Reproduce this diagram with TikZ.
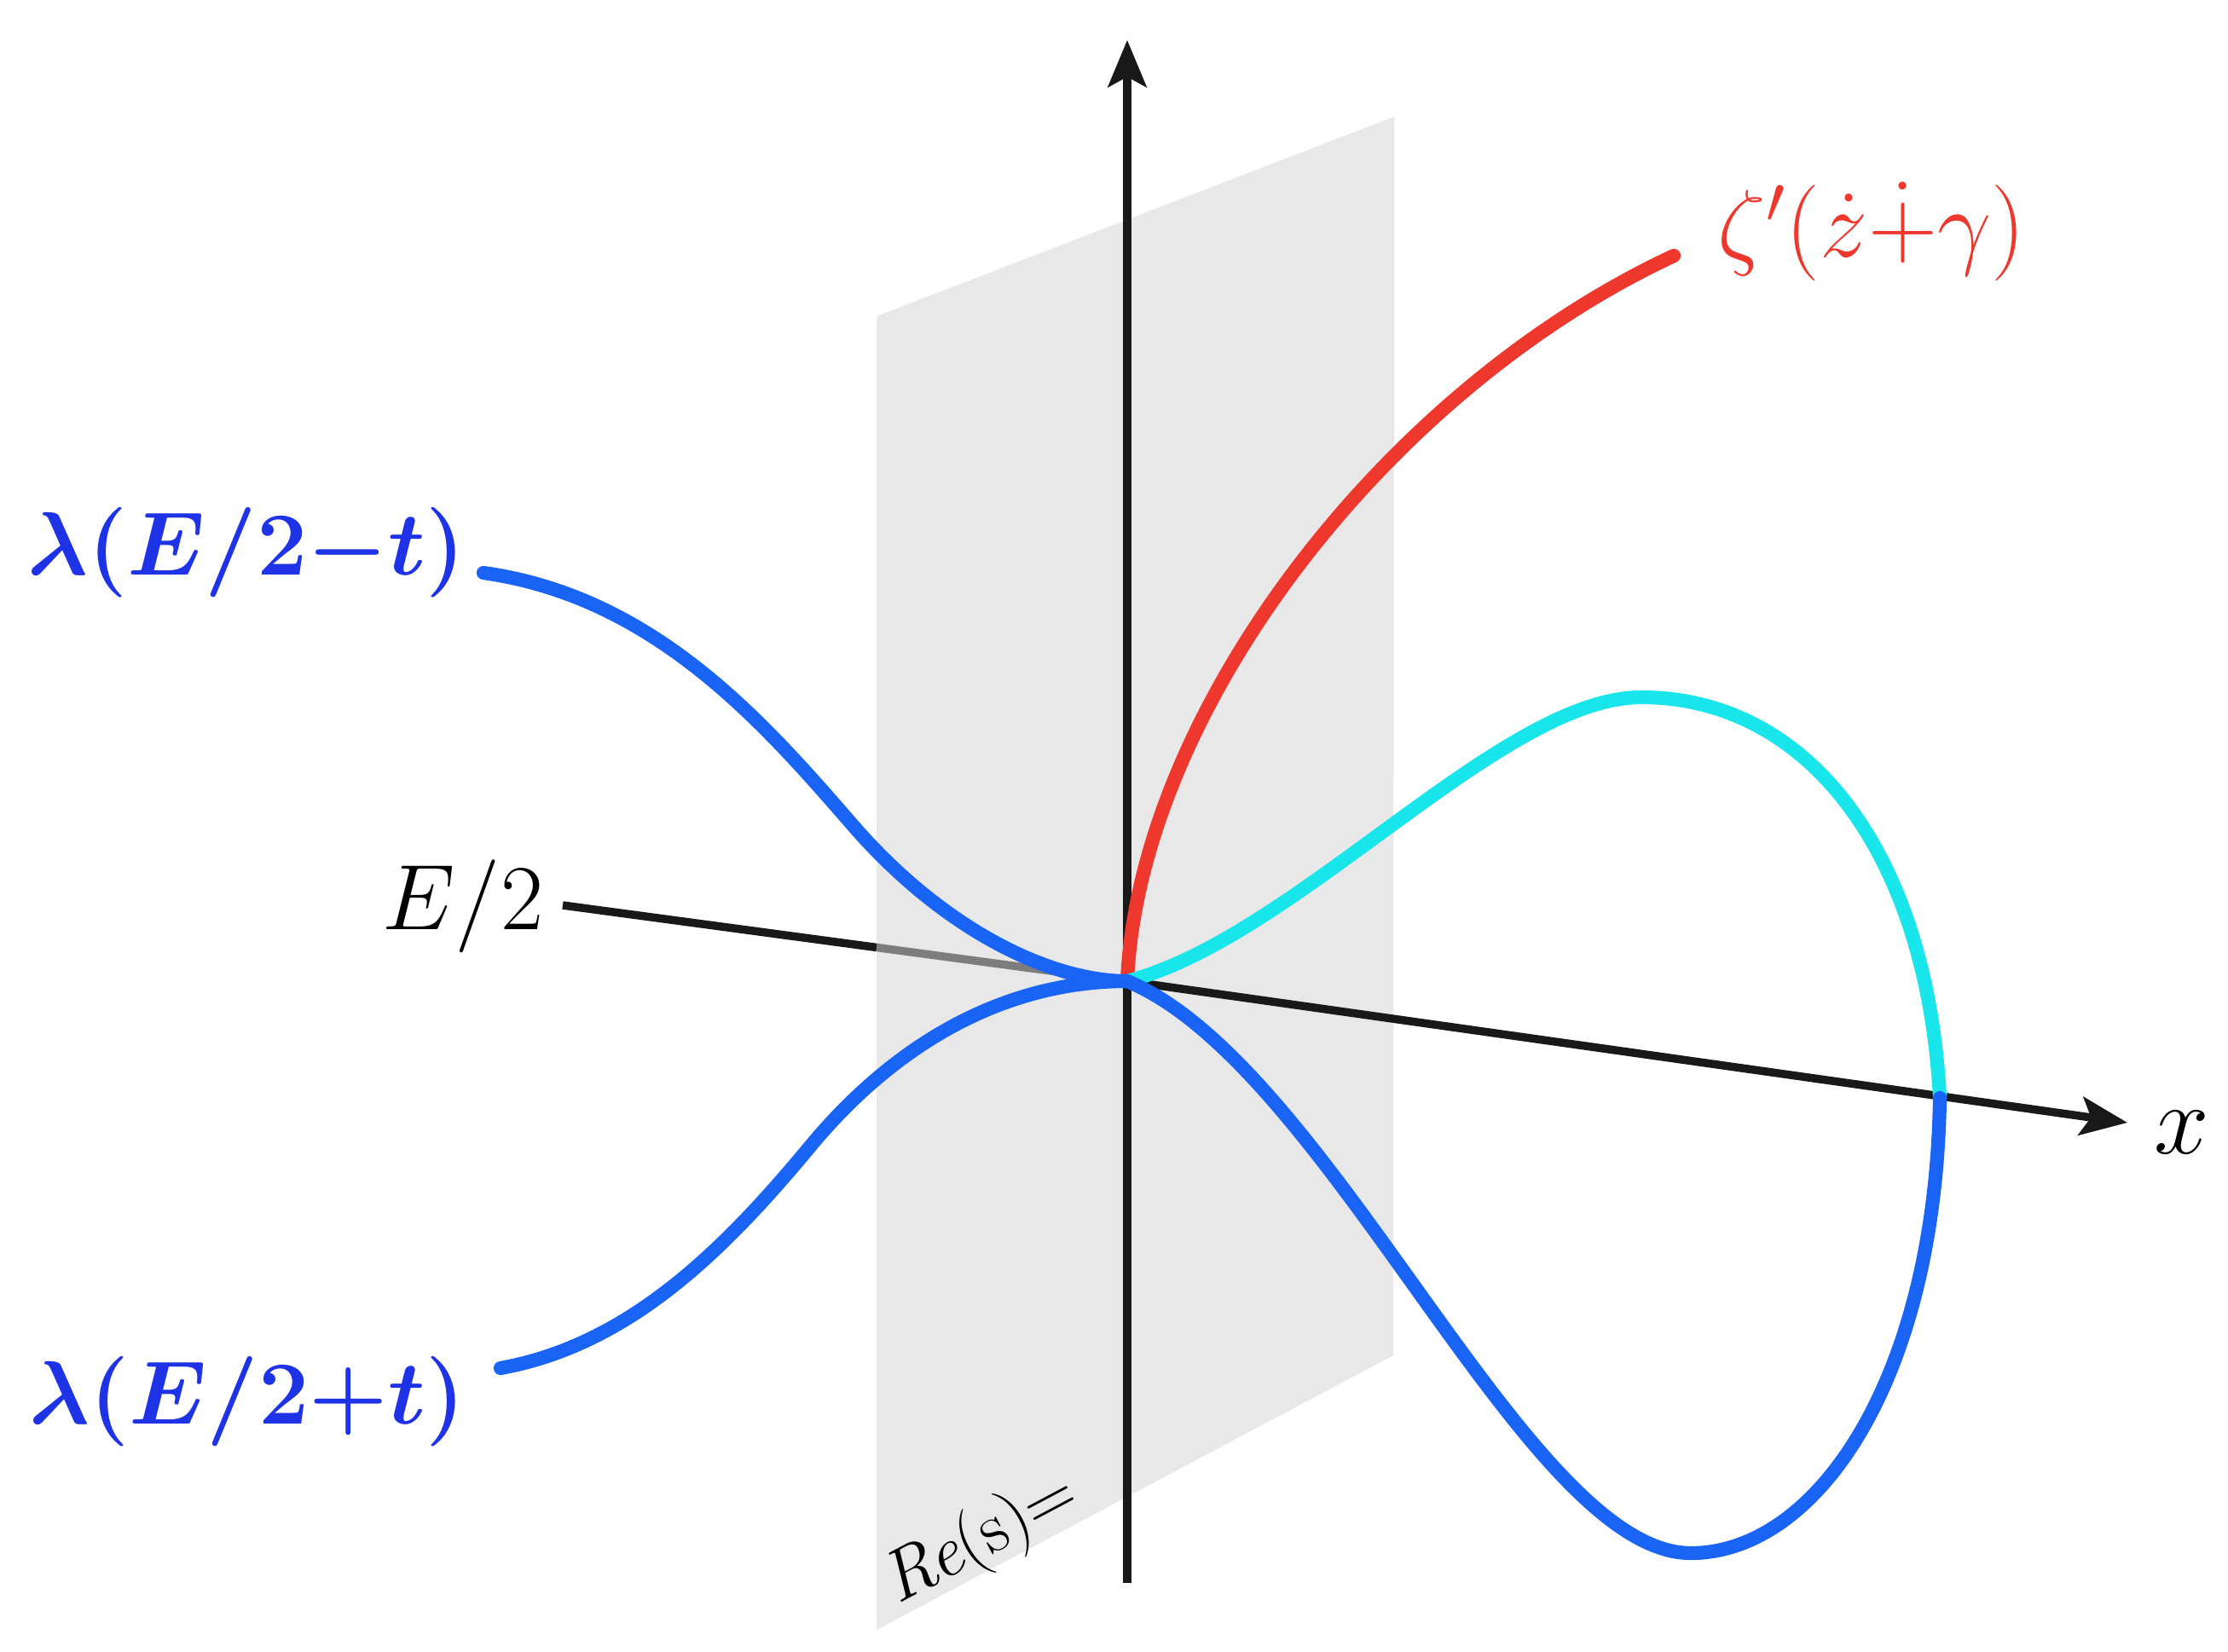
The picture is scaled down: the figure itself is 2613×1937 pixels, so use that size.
\RequirePackage{fix-cm}
\documentclass[tikz,border=0pt]{standalone}
\usepackage{amsmath}
\usepackage{graphicx}
\usetikzlibrary{arrows.meta,calc}
\definecolor{planegray}{RGB}{232,232,232}
\definecolor{hidden}{RGB}{125,125,125}
\definecolor{curveblue}{RGB}{25,100,245}
\definecolor{curvecyan}{RGB}{25,230,235}
\definecolor{curvered}{RGB}{238,55,45}
\definecolor{labelblue}{RGB}{30,50,230}
\begin{document}
\begin{tikzpicture}[x=0.01cm,y=-0.01cm,
  axis/.style={line width=2.7pt,draw=black!90},
  tipaxis/.style={-{Stealth[length=0.55cm,width=0.45cm,inset=0.12cm]}},
  curve/.style={line width=4.6pt,line cap=round,line join=round},
  biglabel/.style={font=\fontsize{32}{38}\selectfont,inner sep=0pt},
  boldlabel/.style={font=\fontsize{30}{36}\selectfont\boldmath,inner sep=0pt},
  midlabel/.style={font=\fontsize{31}{36}\selectfont,inner sep=0pt}]
\useasboundingbox (0,0) rectangle (2613,1937);
% plane
\fill[planegray] (1028,371) -- (1635,137) -- (1634,1590) -- (1028,1912) -- cycle;
% axes
\coordinate (O) at (1322,1151);
\coordinate (E) at (660,1062);
\coordinate (X) at (2495,1317);
\coordinate (B) at (1322,1857);
\coordinate (T) at (1322,47);
\coordinate (P) at ($(E)!0.556!(O)$);
\draw[axis] (E) -- (P);
\draw[axis,draw=hidden] (P) -- (O);
\draw[axis,tipaxis] (O) -- (X);
\draw[axis,tipaxis] (B) -- (T);
% curve points
\coordinate (R) at (1963,300);
\coordinate (CP) at (1925,818);
\coordinate (M) at (2275,1288);
\coordinate (BM) at (1983,1822);
\coordinate (UL) at (567,672);
\coordinate (ULm) at (1000,968);
\coordinate (LL) at (587,1605);
\coordinate (LLm) at (950,1345);
% curves
\draw[curve,curvered] (O) .. controls (1335,840) and (1620,460) .. (R);
\draw[curve,curvecyan] (O) .. controls (1520,1100) and (1760,818) .. (CP)
  .. controls (2120,818) and (2260,1000) .. (M);
\draw[curve,curveblue] (O) .. controls (1560,1250) and (1790,1822) .. (BM)
  .. controls (2130,1822) and (2270,1620) .. (M);
\draw[curve,curveblue] (UL) .. controls (767,700) and (895,847) .. (ULm)
  .. controls (1105,1089) and (1230,1151) .. (O);
\draw[curve,curveblue] (LL) .. controls (737,1578) and (848,1468) .. (LLm)
  .. controls (1052,1222) and (1180,1151) .. (O);
% labels
\node[midlabel,anchor=base] (lhalf) at (543,1090) {$E/2$};
\node[boldlabel,anchor=base,text=labelblue] (lminus) at (289,674) {$\lambda(E/2{-}t)$};
\node[boldlabel,anchor=base,text=labelblue] (lplus) at (290,1670) {$\lambda(E/2{+}t)$};
\node[biglabel,anchor=base,text=curvered] (lzeta) at (2195,302) {$\zeta'(\dot{z}\dot{+}\gamma)$};
\node[font=\fontsize{33}{38}\selectfont,inner sep=0pt,anchor=base] (lx) at (2559,1353) {$x$};
\node[font=\fontsize{24}{28}\selectfont,inner sep=0pt,anchor=base west,rotate=28] (lre) at (1052,1883) {\textit{Re}(s)=};
\end{tikzpicture}
\end{document}
